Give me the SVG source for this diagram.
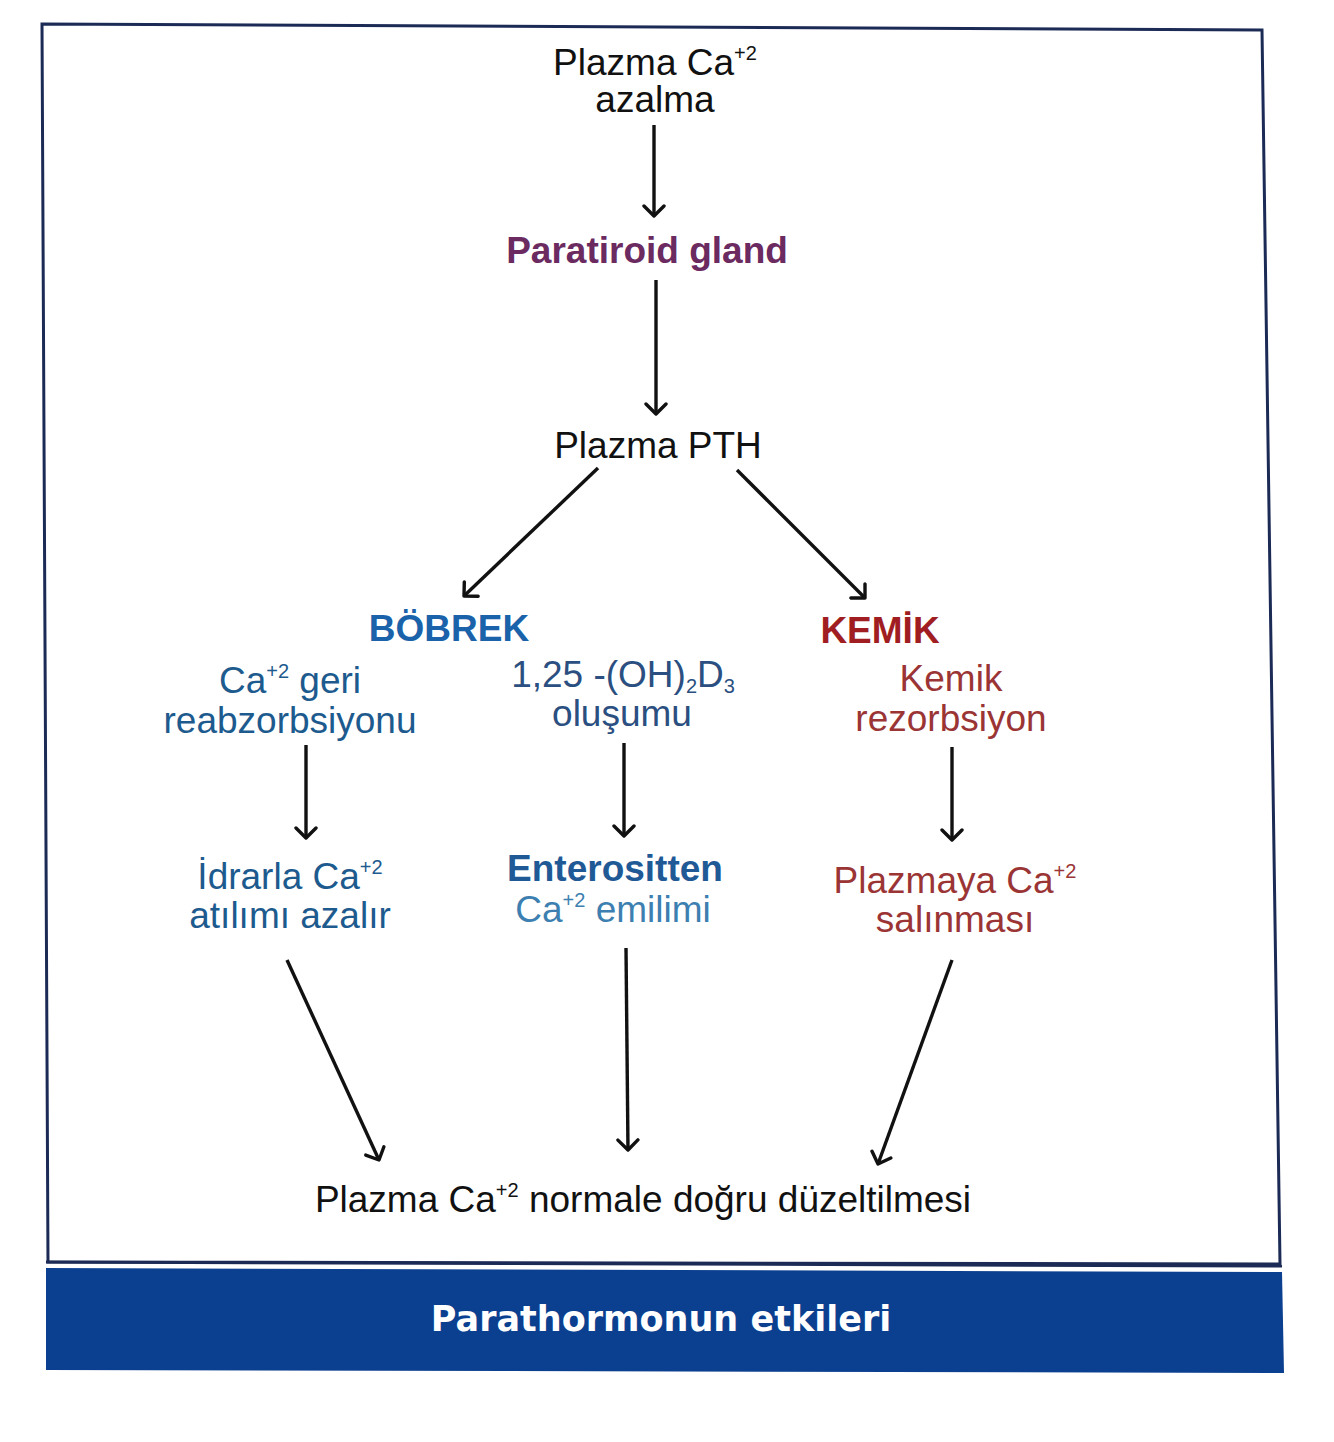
<svg xmlns="http://www.w3.org/2000/svg" width="1334" height="1442" viewBox="0 0 1334 1442">
<style>
text{font-family:"Liberation Sans",Arial,sans-serif;text-anchor:middle;font-size:37px}
.blk{fill:#111}
.pur{fill:#6b2a60;font-weight:bold}
.bh{fill:#1a62aa;font-weight:bold}
.rh{fill:#a01e22;font-weight:bold}
.bt{fill:#1d5a8e}
.bt2{fill:#2a4f80}
.bl{fill:#3c7fb0}
.rt{fill:#9b3535}
.conn line{stroke:#111;stroke-width:3.4;fill:none;marker-end:url(#ah)}
.foot{font-family:"DejaVu Sans",sans-serif;font-weight:bold;fill:#fff;font-size:35px}
</style>
<defs>
<marker id="ah" viewBox="0 0 24 24" refX="12" refY="12" markerWidth="24" markerHeight="24" markerUnits="userSpaceOnUse" orient="auto">
<path d="M2,2 L12,12 L2,22" fill="none" stroke="#111" stroke-width="3.4" stroke-linecap="round" stroke-linejoin="round"/>
</marker>
</defs>
<rect width="1334" height="1442" fill="#fff"/>
<g id="frame">
<polygon points="42,24 1262,30 1280,1264 48,1262" fill="#fff" stroke="#1c2b55" stroke-width="3"/>
<polygon points="46,1268 1282,1272 1284,1373 46,1370" fill="#0b3f8f"/>
<line x1="46" y1="1262" x2="1282" y2="1266" stroke="#1c2b55" stroke-width="3"/>
</g>
<g id="title"><text class="foot" x="661" y="1331">Parathormonun etkileri</text></g>
<g class="conn" id="connectors">
<line x1="654" y1="125" x2="654" y2="216"/>
<line x1="656" y1="280" x2="656" y2="414"/>
<line x1="598" y1="468" x2="464" y2="596"/>
<line x1="737" y1="470" x2="865" y2="598"/>
<line x1="306" y1="745" x2="306" y2="838"/>
<line x1="624" y1="743" x2="624" y2="836"/>
<line x1="952" y1="747" x2="952" y2="840"/>
<line x1="287" y1="960" x2="379" y2="1160"/>
<line x1="626" y1="948" x2="628" y2="1150"/>
<line x1="952" y1="960" x2="878" y2="1164"/>
</g>
<g id="n_start"><text class="blk" x="655" y="75">Plazma Ca<tspan font-size="20" dy="-15">+2</tspan></text><text class="blk" x="655" y="112">azalma</text></g>
<g id="n_gland"><text class="pur" x="647" y="263">Paratiroid gland</text></g>
<g id="n_pth"><text class="blk" x="658" y="458">Plazma PTH</text></g>
<g id="n_bobrek"><text class="bh" x="449" y="641">BÖBREK</text></g>
<g id="n_kemik"><text class="rh" x="880" y="643">KEMİK</text></g>
<g id="n_reab"><text class="bt" x="290" y="693">Ca<tspan font-size="20" dy="-15">+2</tspan><tspan dy="15"> geri</tspan></text><text class="bt" x="290" y="733">reabzorbsiyonu</text></g>
<g id="n_vitd"><text class="bt2" x="623" y="687">1,25 -(OH)<tspan font-size="20" dy="6">2</tspan><tspan dy="-6">D</tspan><tspan font-size="20" dy="6">3</tspan></text><text class="bt2" x="622" y="726">oluşumu</text></g>
<g id="n_rez"><text class="rt" x="951" y="691">Kemik</text><text class="rt" x="951" y="731">rezorbsiyon</text></g>
<g id="n_idrar"><text class="bt" x="290" y="889">İdrarla Ca<tspan font-size="20" dy="-15">+2</tspan></text><text class="bt" x="290" y="928">atılımı azalır</text></g>
<g id="n_ent"><text class="bh" x="615" y="881" style="fill:#1f5a96">Enterositten</text><text class="bl" x="613" y="922">Ca<tspan font-size="20" dy="-15">+2</tspan><tspan dy="15"> emilimi</tspan></text></g>
<g id="n_sal"><text class="rt" x="955" y="893">Plazmaya Ca<tspan font-size="20" dy="-15">+2</tspan></text><text class="rt" x="955" y="932">salınması</text></g>
<g id="n_end"><text class="blk" x="643" y="1212">Plazma Ca<tspan font-size="20" dy="-15">+2</tspan><tspan dy="15"> normale doğru düzeltilmesi</tspan></text></g>
</svg>
